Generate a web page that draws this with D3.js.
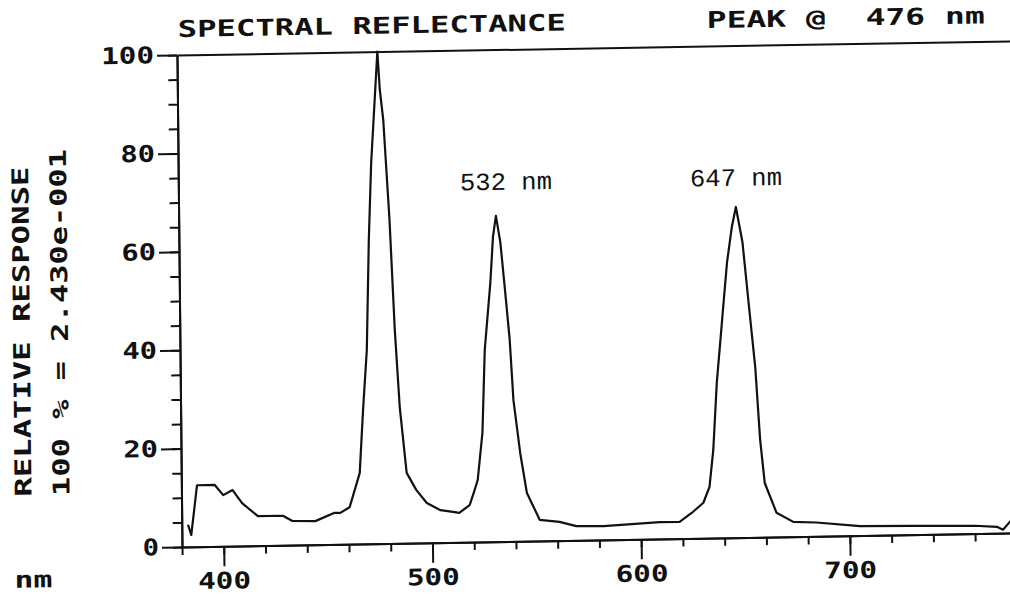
<html>
<head>
<script src="https://d3js.org/d3.v7.min.js"></script>
<style>
body { margin: 0; background: #fff; }
text { fill: #111; }
.axis path, .axis line { stroke: #111; stroke-width: 2; }
</style>
</head>
<body>
<svg width="1010" height="594"></svg>

<script>
// spectrum (nm, relative response %)
var wavelength = [383, 384.5, 387.5, 396, 400, 404.5, 409, 416.5, 428.5, 433, 444, 453, 456, 460.5,
  465.5, 467.5, 469.5, 471, 472.5, 476, 477, 478.5, 481, 483, 485, 488, 492.5, 497.5, 504, 510, 513,
  518, 520.5, 522, 524.5, 526, 529, 530.5, 532, 534, 536, 538, 539.5, 542.5, 545.5, 551.5, 561, 569,
  582, 609, 618.5, 625, 630, 633, 635, 637, 640, 642.5, 645, 647, 650, 652.5, 655.5, 657.5, 659.5,
  665, 673, 684, 705, 730, 760, 770.5, 773.4, 777];
var response = [4.5, 2.4, 12.5, 12.5, 10.4, 11.4, 8.7, 6.0, 6.0, 4.9, 4.8, 6.4, 6.4, 7.5,
  14.4, 27.8, 39.4, 61.8, 77.4, 100, 92.2, 86.1, 65.8, 43.4, 27.7, 14.3, 10.8, 8.1, 6.6, 6.2, 6.0,
  7.5, 10.6, 12.6, 22.2, 39.0, 52.6, 62.0, 66.2, 60.8, 51.1, 41.0, 28.7, 17.9, 9.8, 4.3, 3.8, 2.9,
  2.8, 3.4, 3.4, 5.4, 7.2, 10.4, 17.9, 31.5, 44.9, 56.0, 63.2, 67.2, 60.0, 48.3, 34.6, 19.8, 11.0,
  4.9, 3.0, 2.8, 1.9, 1.8, 1.6, 1.3, 0.7, 2.4];

var xMajor = [400, 500, 600, 700];
var yMajor = [0, 20, 40, 60, 80, 100];
var peakWl = [532, 647];
var peakLabels = ["532 nm", "647 nm"];
var title = "SPECTRAL REFLECTANCE";
var peakNote = "PEAK @  476 nm";
var yTitle1 = "RELATIVE RESPONSE";
var yTitle2 = "100 % = 2.430e-001";
var xUnit = "nm";

var svg = d3.select("svg");
var mono = "'DejaVu Sans Mono', monospace";

// the scanned plot sits slightly askew, so the whole frame is skewed a little
var g = svg.append("g").attr("transform", "matrix(1,-0.0169,0.0102,1,182,547)");

var xs = d3.scaleLinear().domain([380, 780]).range([0, 834.8]);
var ys = d3.scaleLinear().domain([0, 100]).range([0, -492]);

function stretch(sel, charW) {
  sel.attr("textLength", function() { return this.textContent.length * charW - 2; })
     .attr("lengthAdjust", "spacingAndGlyphs");
}

// minor ticks
g.append("g").attr("class", "axis")
  .call(d3.axisLeft(ys).tickValues(d3.range(0, 101, 5)).tickSize(9).tickSizeOuter(0).tickFormat(""));
g.append("g").attr("class", "axis")
  .call(d3.axisBottom(xs).tickValues(d3.range(380, 781, 20)).tickSize(8).tickSizeOuter(0).tickFormat(""));

// major ticks with labels
var yax = g.append("g").attr("class", "axis")
  .call(d3.axisLeft(ys).tickValues(yMajor).tickSize(20).tickPadding(3).tickSizeOuter(0));
var xax = g.append("g").attr("class", "axis")
  .call(d3.axisBottom(xs).tickValues(xMajor).tickSize(20).tickPadding(6).tickSizeOuter(0));
[yax, xax].forEach(function(ax) {
  ax.selectAll("text").style("font-family", mono).style("font-size", "23px").style("font-weight", "bold");
  stretch(ax.selectAll("text"), 18.3);
});

// top frame line
g.append("g").attr("class", "axis").attr("transform", "translate(0," + ys(100) + ")")
  .call(d3.axisTop(xs).tickValues([]).tickSizeOuter(0));

// the spectrum
var line = d3.line()
  .x(function(d, i) { return xs(wavelength[i]); })
  .y(function(d) { return ys(d); });
g.append("path").datum(response)
  .attr("d", line)
  .attr("fill", "none")
  .attr("stroke", "#111")
  .attr("stroke-width", 2.2)
  .attr("stroke-linejoin", "round");

// texts
function label(txt, x, y, len) {
  return g.append("text").text(txt)
    .attr("x", x).attr("y", y)
    .attr("textLength", len).attr("lengthAdjust", "spacingAndGlyphs")
    .style("font-family", mono).style("font-size", "23px").style("font-weight", "bold")
    .style("white-space", "pre");
}
label(title, 1, ys(100) - 18, 388);
label(peakNote, 530, ys(100) - 18, 278);
label(xUnit, -168, 38, 38);

label(yTitle1, 0, 0, 330).attr("transform", "translate(-150,-53) rotate(-90)");
label(yTitle2, 0, 0, 347).attr("transform", "translate(-112,-53) rotate(-90)");

var offs = [-35.6, -45.6];
peakWl.forEach(function(w, i) {
  g.append("text").text(peakLabels[i])
    .attr("x", xs(w) + offs[i]).attr("y", ys(71.5))
    .attr("textLength", 92).attr("lengthAdjust", "spacingAndGlyphs")
    .style("font-family", "'Liberation Mono', monospace").style("font-size", "25px");
});
</script>
</body>
</html>
